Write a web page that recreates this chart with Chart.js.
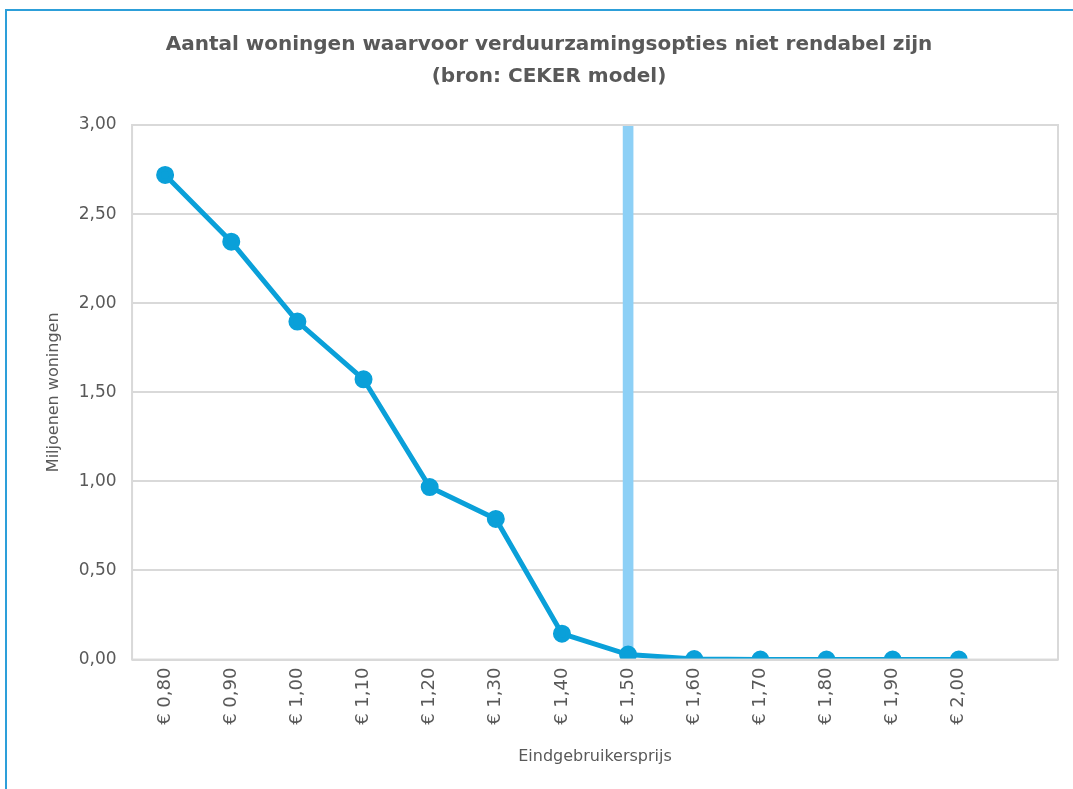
<!DOCTYPE html>
<html>
<head>
<meta charset="utf-8">
<script src="https://cdn.jsdelivr.net/npm/chart.js@4"></script>
<style>
    html, body { margin: 0; padding: 0; background: #fff; overflow: hidden; }
    #frame { position: absolute; left: 5px; top: 9px; width: 1200px; height: 900px; border-left: 2px solid #2d9fd9; border-top: 2px solid #2d9fd9; }
    #wrap { position: absolute; left: 0; top: 0; width: 1073px; height: 789px; }
</style>
</head>
<body>
<div id="frame"></div>
<div id="wrap"><canvas id="chart"></canvas></div>
<script>
const categories = ['€ 0,80', '€ 0,90', '€ 1,00', '€ 1,10', '€ 1,20', '€ 1,30', '€ 1,40', '€ 1,50', '€ 1,60', '€ 1,70', '€ 1,80', '€ 1,90', '€ 2,00', ''];
const woningen = [2.72, 2.345, 1.897, 1.573, 0.968, 0.789, 0.145, 0.028, 0.003, 0, 0, 0, 0, null];
const markerPrice = '€ 1,50';
const yMax = 3;

document.addEventListener('DOMContentLoaded', () => {
    const markerData = categories.map(c => c === markerPrice ? yMax : null);
    const fontFamily = '"DejaVu Sans", sans-serif';

    const plotBorder = {
        id: 'plotBorder',
        afterDraw(chart) {
            const { ctx, chartArea: a } = chart;
            ctx.save();
            ctx.strokeStyle = '#d9d9d9';
            ctx.lineWidth = 2;
            ctx.strokeRect(a.left, a.top, a.right - a.left, a.bottom - a.top);
            ctx.restore();
        }
    };

    const ctx = document.getElementById('chart').getContext('2d');
    new Chart(ctx, {
        type: 'line',
        data: {
            labels: categories,
            datasets: [
                {
                    label: 'Woningen',
                    data: woningen,
                    borderColor: '#0aa0d9',
                    backgroundColor: '#0aa0d9',
                    borderWidth: 5,
                    pointRadius: 6.5,
                    pointHoverRadius: 6.5,
                    tension: 0,
                    order: 1
                },
                {
                    type: 'bar',
                    label: 'Grens',
                    data: markerData,
                    backgroundColor: '#8dd0f6',
                    barThickness: 10,
                    order: 2
                }
            ]
        },
        options: {
            responsive: true,
            maintainAspectRatio: false,
            animation: false,
            layout: { padding: { left: 40, right: 15, top: 8, bottom: 19 } },
            plugins: {
                legend: { display: false },
                tooltip: { enabled: false },
                title: {
                    display: true,
                    text: ['Aantal woningen waarvoor verduurzamingsopties niet rendabel zijn', '(bron: CEKER model)'],
                    color: '#595959',
                    font: { family: fontFamily, size: 20, weight: 'bold', lineHeight: 1.6 },
                    padding: { top: 21, bottom: 32 }
                }
            },
            scales: {
                x: {
                    offset: true,
                    grid: { display: false, drawTicks: false },
                    border: { display: false },
                    ticks: {
                        color: '#595959',
                        font: { family: fontFamily, size: 18 },
                        maxRotation: 90,
                        minRotation: 90,
                        autoSkip: false,
                        padding: 8
                    },
                    title: {
                        display: true,
                        text: 'Eindgebruikersprijs',
                        color: '#595959',
                        font: { family: fontFamily, size: 16 },
                        padding: { top: 14 }
                    }
                },
                y: {
                    min: 0,
                    max: yMax,
                    grid: { color: '#d9d9d9', lineWidth: 2, drawTicks: false },
                    border: { display: false },
                    ticks: {
                        stepSize: 0.5,
                        color: '#595959',
                        font: { family: fontFamily, size: 17 },
                        padding: 15.5,
                        callback: value => value.toFixed(2).replace('.', ',')
                    },
                    title: {
                        display: true,
                        text: 'Miljoenen woningen',
                        color: '#595959',
                        font: { family: fontFamily, size: 16 },
                        padding: { bottom: 0 }
                    }
                }
            }
        },
        plugins: [plotBorder]
    });
});
</script>
</body>
</html>
